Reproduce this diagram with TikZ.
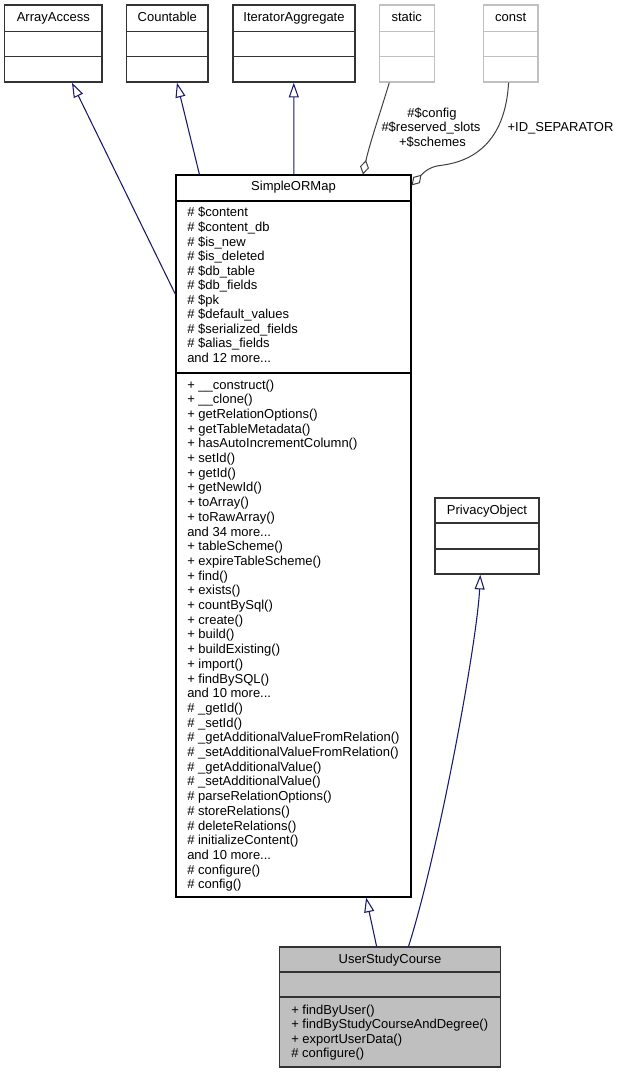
\documentclass[tikz,border=0pt]{standalone}
\usepackage{fontspec}
\setmainfont{Liberation Sans}
\usetikzlibrary{arrows.meta,fit,calc}
\definecolor{navy}{HTML}{191970}
\definecolor{boxgray}{HTML}{BFBFBF}
\definecolor{edgegray}{HTML}{404040}
\definecolor{lightborder}{HTML}{C0C0C0}
\definecolor{darkborder}{HTML}{333333}
\newcommand{\mydots}{...}
\tikzset{
  txt/.style={font=\fontsize{9.75}{11}\selectfont, inner sep=0pt, anchor=base west},
  ttl/.style={font=\fontsize{9.75}{11}\selectfont, inner sep=0pt, anchor=base},
  lbl/.style={font=\fontsize{9.75}{11}\selectfont, inner sep=0pt, anchor=base},
  boxdark/.style={draw=darkborder, line width=1.1pt, inner sep=0pt},
  boxmain/.style={draw=black, line width=0.85pt, inner sep=0pt},
  boxlight/.style={draw=lightborder, line width=1.1pt, inner sep=0pt},
  boxfilled/.style={draw=darkborder, fill=boxgray, line width=1.1pt, inner sep=0pt},
  inh/.style={draw=navy, line width=0.8pt, -{Triangle[open, length=11pt, width=7.5pt]}},
  agg/.style={draw=edgegray, line width=0.75pt, -{Diamond[open, length=11pt, width=6.8pt]}},
}
\begin{document}
\begin{tikzpicture}[x=0.75pt, y=-0.75pt]
\useasboundingbox (0,0) rectangle (626,1073);
\fill[white] (0,0) rectangle (626,1073);

% ---- top boxes ----
\node[boxdark, fit={(4.7,5) (102,82)}] (aa) {};
\draw[darkborder, line width=1.1pt] (4.7,31.7) -- (102,31.7) (4.7,56.7) -- (102,56.7);
\node[ttl] (aat) at (53.3,22) {ArrayAccess};

\node[boxdark, fit={(126.7,5) (208,82)}] (cnt) {};
\draw[darkborder, line width=1.1pt] (126.7,31.7) -- (208,31.7) (126.7,56.7) -- (208,56.7);
\node[ttl] (cntt) at (167.3,22) {Countable};

\node[boxdark, fit={(233,5) (355,82)}] (ita) {};
\draw[darkborder, line width=1.1pt] (233,31.7) -- (355,31.7) (233,56.7) -- (355,56.7);
\node[ttl] (itat) at (294,22) {IteratorAggregate};

\node[boxlight, fit={(379.3,5) (434.3,82)}] (st) {};
\draw[lightborder, line width=1.1pt] (379.3,31.7) -- (434.3,31.7) (379.3,56.7) -- (434.3,56.7);
\node[ttl] (stt) at (406.8,22) {static};

\node[boxlight, fit={(483.3,5) (538,82)}] (cn) {};
\draw[lightborder, line width=1.1pt] (483.3,31.7) -- (538,31.7) (483.3,56.7) -- (538,56.7);
\node[ttl] (cnt2) at (510.7,22) {const};

% ---- SimpleORMap ----
\node[boxmain, fit={(176,175) (411,897)}] (sorm) {};
\draw[black, line width=0.85pt] (176,201) -- (411,201) (176,373) -- (411,373);
\node[ttl] (sormt) at (293.5,191) {SimpleORMap};
\foreach \t [count=\i] in {{\# \$content},{\# \$content\_db},{\# \$is\_new},{\# \$is\_deleted},{\# \$db\_table},{\# \$db\_fields},{\# \$pk},{\# \$default\_values},{\# \$serialized\_fields},{\# \$alias\_fields},{and 12 more\mydots}}
  \node[txt] (sa\i) at (187,{217+14.55*(\i-1)}) {\t};
\foreach \t [count=\i] in {{+ \_\_construct()},{+ \_\_clone()},{+ getRelationOptions()},{+ getTableMetadata()},{+ hasAutoIncrementColumn()},{+ setId()},{+ getId()},{+ getNewId()},{+ toArray()},{+ toRawArray()},{and 34 more\mydots},{+ tableScheme()},{+ expireTableScheme()},{+ find()},{+ exists()},{+ countBySql()},{+ create()},{+ build()},{+ buildExisting()},{+ import()},{+ findBySQL()},{and 10 more\mydots},{\# \_getId()},{\# \_setId()},{\# \_getAdditionalValueFromRelation()},{\# \_setAdditionalValueFromRelation()},{\# \_getAdditionalValue()},{\# \_setAdditionalValue()},{\# parseRelationOptions()},{\# storeRelations()},{\# deleteRelations()},{\# initializeContent()},{and 10 more\mydots},{\# configure()},{\# config()}}
  \node[txt] (sm\i) at (187,{389+14.7*(\i-1)}) {\t};

% ---- PrivacyObject ----
\node[boxdark, fit={(435,498) (539,574)}] (po) {};
\draw[darkborder, line width=1.1pt] (435,523) -- (539,523) (435,549) -- (539,549);
\node[ttl] (pot) at (487,514.5) {PrivacyObject};

% ---- UserStudyCourse ----
\node[boxfilled, fit={(279.5,947) (500.5,1067)}] (usc) {};
\draw[darkborder, line width=1.1pt] (279.5,972) -- (500.5,972) (279.5,997) -- (500.5,997);
\node[ttl] (usct) at (390,963.5) {UserStudyCourse};
\foreach \t [count=\i] in {{+ findByUser()},{+ findByStudyCourseAndDegree()},{+ exportUserData()},{\# configure()}}
  \node[txt] (um\i) at (291,{1014+14.5*(\i-1)}) {\t};

% ---- inheritance edges ----
\draw[inh] ($(sorm.north west)+(0,120)$) -- ($(aa.south west)+(68,0)$);
\draw[inh] ($(sorm.north west)+(24,0)$) -- ($(cnt.south west)+(51,0)$);
\draw[inh] ($(sorm.north west)+(118.5,0)$) -- ($(ita.south west)+(61.5,0)$);
\draw[inh] ($(usc.north west)+(97.8,0)$) -- ($(sorm.south west)+(190.7,0)$);
\draw[inh] ($(usc.north west)+(129.8,0)$) .. controls ($(usc.north west)+(160.5,-97)$) and ($(po.south west)+(43,66)$) .. ($(po.south west)+(46,0)$);

% ---- aggregation edges ----
\draw[agg] ($(st.south west)+(10.7,0)$) .. controls ($(st.south west)+(0.7,33)$) and ($(sorm.north west)+(194,-30)$) .. ($(sorm.north west)+(187.5,0)$);
\draw[agg] ($(cn.south west)+(26,0)$) .. controls ($(cn.south west)+(23,53)$) and ($(cn.south west)+(-3,78)$) .. ($(sorm.north east)+(29,-9)$) .. controls ($(sorm.north east)+(19,-8)$) and ($(sorm.north east)+(13,-3)$) .. ($(sorm.north east)+(0,11)$);

% ---- edge labels ----
\node[lbl] (l1) at (432,117.5) {\#\$config};
\node[lbl] (l2) at (431,132) {\#\$reserved\_slots};
\node[lbl] (l3) at (432.5,147) {+\$schemes};
\node[txt] (l4) at (507.3,132) {+ID\_SEPARATOR};
\end{tikzpicture}
\end{document}
